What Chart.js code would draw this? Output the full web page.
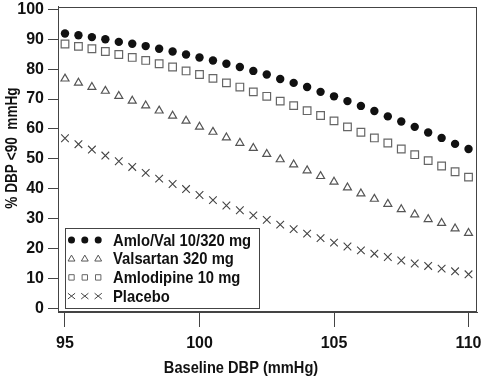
<!DOCTYPE html>
<html>
<head>
<meta charset="utf-8">
<script src="https://cdn.jsdelivr.net/npm/chart.js@4"></script>
<style>
  html, body { margin: 0; padding: 0; background: #fff; }
  #wrap { width: 484px; height: 377px; }
</style>
</head>
<body>
<div id="wrap"><canvas id="chart-dbp" width="484" height="377"></canvas></div>
<script>
// baseline DBP, every 0.5 mmHg
const baseline = [95, 95.5, 96, 96.5, 97, 97.5, 98, 98.5, 99, 99.5, 100, 100.5, 101, 101.5, 102, 102.5,
  103, 103.5, 104, 104.5, 105, 105.5, 106, 106.5, 107, 107.5, 108, 108.5, 109, 109.5, 110];

const amloVal = [91.9, 91.3, 90.7, 90.0, 89.1, 88.5, 87.7, 86.8, 85.9, 84.9, 83.9, 82.9, 81.8, 80.7, 79.4, 78.2,
  76.7, 75.4, 74.0, 72.4, 70.9, 69.3, 67.7, 66.0, 64.2, 62.5, 60.7, 58.8, 57.0, 55.0, 53.3];
const valsartan = [76.8, 75.4, 74.0, 72.7, 71.0, 69.4, 67.8, 66.1, 64.4, 62.7, 60.7, 59.0, 57.1, 55.3, 53.6, 51.6,
  49.8, 48.1, 46.1, 44.2, 42.3, 40.4, 38.4, 36.6, 34.9, 33.1, 31.4, 29.8, 28.5, 26.7, 25.2];
const amlodipine = [88.4, 87.6, 86.8, 85.9, 84.9, 83.9, 82.9, 81.8, 80.7, 79.4, 78.2, 76.9, 75.4, 74.0, 72.4, 70.9,
  69.3, 67.8, 66.1, 64.5, 62.7, 60.7, 58.9, 57.0, 55.3, 53.3, 51.4, 49.4, 47.6, 45.7, 43.9];
const placebo = [56.9, 54.9, 53.1, 51.1, 49.2, 47.3, 45.3, 43.4, 41.6, 39.9, 37.9, 36.2, 34.4, 32.8, 31.1, 29.6,
  28.0, 26.5, 25.0, 23.5, 22.0, 20.7, 19.4, 18.3, 17.2, 16.0, 15.0, 14.2, 13.3, 12.4, 11.4];

const seriesNames = ["Amlo/Val 10/320 mg", "Valsartan 320 mg", "Amlodipine 10 mg", "Placebo"];
const xTicks = [95, 100, 105, 110];
const yTicks = [0, 10, 20, 30, 40, 50, 60, 70, 80, 90, 100];

const fontFam = '"Liberation Sans", Arial, sans-serif';
const axisColor = '#444';

function pts(ys) {
  return baseline.map((x, i) => ({ x: x, y: ys[i] }));
}

// fake a condensed bold face by squeezing horizontally
function condText(ctx, text, x, y, squeeze) {
  ctx.save();
  ctx.translate(x, y);
  ctx.scale(squeeze, 1);
  ctx.fillText(text, 0, 0);
  ctx.restore();
}

// small marker drawer for the hand-made legend
function marker(ctx, style, x, y, s, color) {
  ctx.save();
  ctx.strokeStyle = color;
  ctx.fillStyle = color;
  ctx.lineWidth = 1;
  ctx.beginPath();
  if (style === 'circle') {
    ctx.arc(x, y, s, 0, Math.PI * 2);
    ctx.fill();
  } else if (style === 'triangle') {
    ctx.moveTo(x, y - s);
    ctx.lineTo(x + s * 0.95, y + s * 0.65);
    ctx.lineTo(x - s * 0.95, y + s * 0.65);
    ctx.closePath();
    ctx.stroke();
  } else if (style === 'rect') {
    ctx.rect(x - s + 0.5, y - s + 0.5, 2 * s - 1, 2 * s - 1);
    ctx.stroke();
  } else {
    ctx.moveTo(x - s, y - s * 0.8); ctx.lineTo(x + s, y + s * 0.8);
    ctx.moveTo(x + s, y - s * 0.8); ctx.lineTo(x - s, y + s * 0.8);
    ctx.stroke();
  }
  ctx.restore();
}

const decor = {
  id: 'decor',
  afterDraw(chart) {
    const ctx = chart.ctx;
    const a = chart.chartArea;
    ctx.save();
    // plot frame
    ctx.strokeStyle = axisColor;
    ctx.lineWidth = 1;
    ctx.strokeRect(Math.round(a.left) + 0.5, Math.round(a.top) + 0.5,
      Math.round(a.right - a.left) - 1, Math.round(a.bottom - a.top) - 1);

    // legend box
    const lx = 65, ly = 228, lw = 194, lh = 80;
    ctx.fillStyle = '#fff';
    ctx.fillRect(lx, ly, lw, lh);
    ctx.strokeRect(lx + 0.5, ly + 0.5, lw, lh);
    const styles = ['circle', 'triangle', 'rect', 'crossRot'];
    const cols = ['#111', '#555', '#666', '#444'];
    const sizes = [3.5, 3.6, 3.2, 3.6];
    ctx.font = 'bold 17px ' + fontFam;
    ctx.textBaseline = 'middle';
    ctx.textAlign = 'left';
    seriesNames.forEach((name, i) => {
      const ry = 240 + i * 18.7;
      [71.5, 84.8, 98.2].forEach(mx => marker(ctx, styles[i], mx, ry, sizes[i], cols[i]));
      ctx.fillStyle = '#111';
      condText(ctx, name, 113, ry + 1, 0.87);
    });

    // axis titles
    ctx.fillStyle = '#111';
    ctx.textAlign = 'center';
    condText(ctx, 'Baseline DBP (mmHg)', 241, 368, 0.86);
    ctx.translate(12, 148);
    ctx.rotate(-Math.PI / 2);
    condText(ctx, '% DBP <90  mmHg', 0, 0, 0.8);
    ctx.restore();
  }
};

new Chart(document.getElementById('chart-dbp'), {
  type: 'scatter',
  data: {
    datasets: [
      {
        label: seriesNames[0],
        data: pts(amloVal),
        pointStyle: 'circle',
        pointRadius: 4.2,
        backgroundColor: '#111',
        borderColor: '#111',
        borderWidth: 0,
      },
      {
        label: seriesNames[1],
        data: pts(valsartan),
        pointStyle: 'triangle',
        pointRadius: 4.6,
        backgroundColor: 'rgba(255,255,255,0)',
        borderColor: '#555',
        borderWidth: 1.2,
      },
      {
        label: seriesNames[2],
        data: pts(amlodipine),
        pointStyle: 'rect',
        pointRadius: 5.4,
        backgroundColor: 'rgba(255,255,255,0)',
        borderColor: '#666',
        borderWidth: 1.2,
      },
      {
        label: seriesNames[3],
        data: pts(placebo),
        pointStyle: 'crossRot',
        pointRadius: 5.4,
        borderColor: '#444',
        borderWidth: 1.1,
      },
    ],
  },
  options: {
    responsive: false,
    animation: false,
    devicePixelRatio: 1,
    layout: { padding: { top: 4, right: 5, left: 0, bottom: 0 } },
    plugins: {
      legend: { display: false },
      tooltip: { enabled: false },
    },
    scales: {
      x: {
        type: 'linear',
        min: 94.74,
        max: 110.33,
        afterBuildTicks: scale => { scale.ticks = xTicks.map(v => ({ value: v })); },
        afterFit: scale => { scale.height = 65; scale.paddingLeft = 0; scale.paddingRight = 0; },
        grid: { drawOnChartArea: false, tickLength: 15, color: axisColor },
        border: { display: true, color: axisColor },
        ticks: {
          padding: 7,
          color: '#111',
          maxRotation: 0,
          font: { family: fontFam, size: 16, weight: 'bold' },
        },
      },
      y: {
        min: -1.2,
        max: 100.9,
        afterBuildTicks: scale => { scale.ticks = yTicks.map(v => ({ value: v })); },
        afterFit: scale => { scale.width = 58; scale.paddingTop = 0; scale.paddingBottom = 0; },
        grid: { drawOnChartArea: false, tickLength: 10, color: axisColor },
        border: { display: true, color: axisColor },
        ticks: {
          padding: 4,
          color: '#111',
          font: { family: fontFam, size: 16, weight: 'bold' },
        },
      },
    },
  },
  plugins: [decor],
});
</script>
</body>
</html>
